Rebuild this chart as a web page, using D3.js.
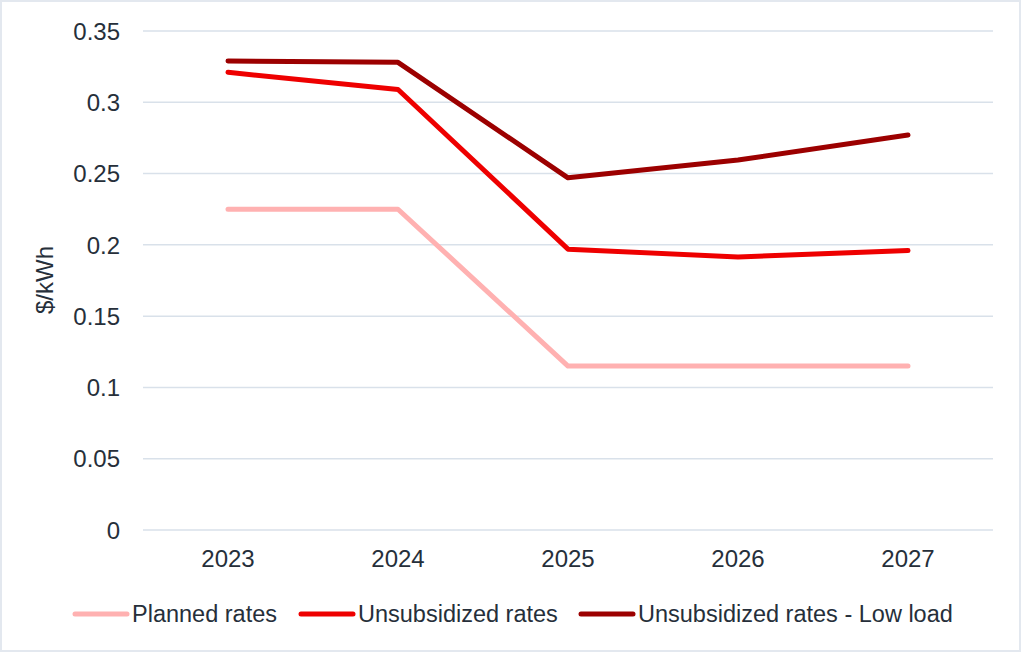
<!DOCTYPE html>
<html>
<head>
<meta charset="utf-8">
<script src="https://cdn.jsdelivr.net/npm/d3@7"></script>
<style>
  body { margin: 0; background: #fff; }
  text { font-family: "Liberation Sans", Arial, sans-serif; fill: #262f3a; }
</style>
</head>
<body>
<div id="chart"></div>
<script>
// chart data
const years = ["2023", "2024", "2025", "2026", "2027"];
const planned = [0.225, 0.225, 0.115, 0.115, 0.115];
const unsubsidized = [0.321, 0.309, 0.197, 0.1915, 0.196];
const lowLoad = [0.329, 0.328, 0.247, 0.2595, 0.277];
const yTicks = [0, 0.05, 0.1, 0.15, 0.2, 0.25, 0.3, 0.35];
const seriesNames = ["Planned rates", "Unsubsidized rates", "Unsubsidized rates - Low load"];
const seriesColors = ["#ffb1b1", "#ee0000", "#9c0000"];

const W = 1021, H = 652;
const margin = {top: 31, right: 28, bottom: 122, left: 143},
    width = W - margin.left - margin.right,
    height = H - margin.top - margin.bottom;

const svg = d3.select("#chart")
  .append("svg")
    .attr("width", W)
    .attr("height", H);

// outer frame
svg.append("rect")
  .attr("x", 1).attr("y", 1)
  .attr("width", W - 2).attr("height", H - 2)
  .attr("fill", "#fff")
  .attr("stroke", "#e3e8ef")
  .attr("stroke-width", 2);

const g = svg.append("g")
  .attr("transform", `translate(${margin.left}, ${margin.top})`);

const x = d3.scaleBand()
  .domain(years)
  .range([0, width]);

const y = d3.scaleLinear()
  .domain([0, 0.35])
  .range([height, 0]);

// gridlines
g.selectAll(".grid")
  .data(yTicks)
  .enter().append("line")
    .attr("x1", 0).attr("x2", width)
    .attr("y1", d => y(d)).attr("y2", d => y(d))
    .attr("stroke", "#d9e1ea")
    .attr("stroke-width", 1.5);

// y axis
const yAxis = g.append("g")
  .call(d3.axisLeft(y).tickValues(yTicks).tickSize(0).tickPadding(23)
    .tickFormat(d => d3.format("")(+d.toFixed(2))));
yAxis.select(".domain").remove();
yAxis.selectAll("text")
  .style("font-size", "24px")
  .attr("dy", "0.34em")
  .attr("fill", "#262f3a");

// x axis
const xAxis = g.append("g")
  .attr("transform", `translate(0, ${height})`)
  .call(d3.axisBottom(x).tickSize(0).tickPadding(20));
xAxis.select(".domain").remove();
xAxis.selectAll("text")
  .style("font-size", "24px")
  .attr("fill", "#262f3a");

// y title
svg.append("text")
  .attr("transform", `translate(53, 280) rotate(-90)`)
  .attr("text-anchor", "middle")
  .style("font-size", "24px")
  .text("$/kWh");

// lines
const line = d3.line()
  .x((d, i) => x(years[i]) + x.bandwidth() / 2)
  .y(d => y(d));

[planned, unsubsidized, lowLoad].forEach(function(vals, i) {
  g.append("path")
    .datum(vals)
    .attr("fill", "none")
    .attr("stroke", seriesColors[i])
    .attr("stroke-width", 5)
    .attr("stroke-linecap", "round")
    .attr("stroke-linejoin", "round")
    .attr("d", line);
});

// legend
const legendX = [75, 301, 581];
const legend = svg.append("g").attr("transform", "translate(0, 614)");
seriesNames.forEach(function(name, i) {
  legend.append("line")
    .attr("x1", legendX[i]).attr("x2", legendX[i] + 52)
    .attr("y1", 0).attr("y2", 0)
    .attr("stroke", seriesColors[i])
    .attr("stroke-width", 5)
    .attr("stroke-linecap", "round");
  legend.append("text")
    .attr("x", legendX[i] + 57)
    .attr("y", 8)
    .style("font-size", "23.5px")
    .text(name);
});
</script>
</body>
</html>
